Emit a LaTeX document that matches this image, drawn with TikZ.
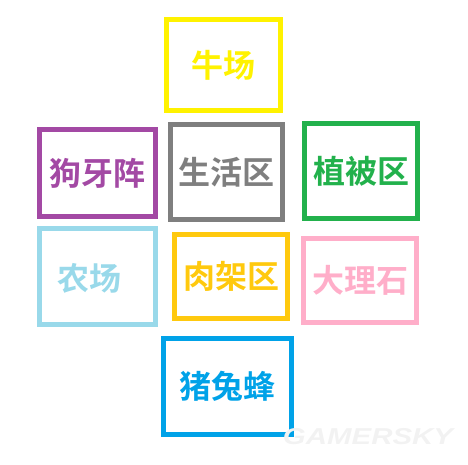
\documentclass[tikz,border=0pt]{standalone}
\usepackage{fontspec}
\usepackage{xcolor}
\newfontfamily\cjk{Noto Sans CJK SC}[BoldFont={Noto Sans CJK SC Bold}]
\newfontfamily\wmfont{Liberation Sans}
\definecolor{yel}{HTML}{FFF200}
\definecolor{pur}{HTML}{A349A4}
\definecolor{gry}{HTML}{7F7F7F}
\definecolor{grn}{HTML}{22B14C}
\definecolor{ltb}{HTML}{99D9EA}
\definecolor{gold}{HTML}{FFC90E}
\definecolor{rose}{HTML}{FFAEC9}
\definecolor{tur}{HTML}{00A2E8}

\begin{document}
\begin{tikzpicture}[x=1pt, y=-1pt,
  box/.style={draw=#1, text=#1, line width=5pt, inner sep=0pt, outer sep=0pt,
    font=\cjk\bfseries\fontsize{32}{32}\selectfont}]
\useasboundingbox (0,0) rectangle (468,465);
% Fila superior
\node[box=yel, minimum width=114pt, minimum height=91pt] (cow) at (223.5,65) {牛场};
% Fila central
\node[box=pur, minimum width=116pt, minimum height=87pt] (dog) at (97.5,173) {狗牙阵};
\node[box=gry, minimum width=112pt, minimum height=95pt] (life) at (226.5,172) {生活区};
\node[box=grn, minimum width=113pt, minimum height=95pt] (plant) at (361,171) {植被区};
% Fila inferior
\node[box=ltb, minimum width=116pt, minimum height=96pt] (farm) at (97.5,276.5) {};
\node[box=ltb, draw=none] (farmtxt) at ([xshift=-8.5pt,yshift=-2pt]farm.center) {农场};
\node[box=gold, minimum width=113pt, minimum height=84pt] (meat) at (231,276.5) {肉架区};
\node[box=rose, minimum width=113pt, minimum height=84pt] (marble) at (360,280.5) {大理石};
% Abajo
\node[box=tur, minimum width=128pt, minimum height=96pt] (pig) at (227.5,386.5) {猪兔蜂};
% Marca de agua
\node[text=black!5, font=\wmfont\bfseries\itshape\fontsize{23}{23}\selectfont, xscale=1.28, inner sep=0pt]
  (mark) at (368,437) {GAMERSKY};
\end{tikzpicture}
\end{document}
